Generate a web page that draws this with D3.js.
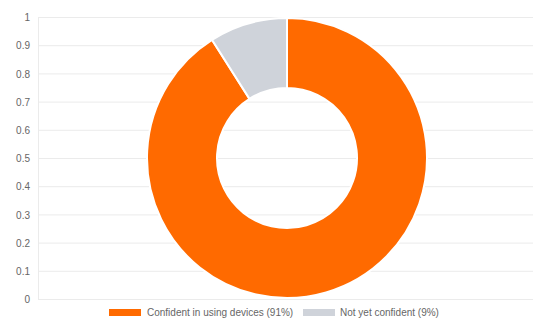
<!DOCTYPE html>
<html><head><meta charset="utf-8">
<script src="https://cdn.jsdelivr.net/npm/d3@7"></script>
<style>body{margin:0;background:#fff;font-family:"Liberation Sans",Arial,sans-serif}</style>
</head><body>
<svg id="c" width="533" height="320"></svg>
<script>
const categories = ["Confident in using devices (91%)", "Not yet confident (9%)"];
const values = [91, 9];
const colors = ["#ff6a00", "#cfd3da"];
const yTicks = [0, 0.1, 0.2, 0.3, 0.4, 0.5, 0.6, 0.7, 0.8, 0.9, 1];

(function () {
const svg = d3.select("#c");
const W = 533;
const mLeft = 38, mTop = 17, mBottom = 299;
const y = d3.scaleLinear().domain([0, 1]).range([mBottom, mTop]);

svg.append("g").selectAll("line").data(yTicks).join("line")
  .attr("x1", mLeft).attr("x2", W)
  .attr("y1", d => y(d) + 0.5).attr("y2", d => y(d) + 0.5)
  .attr("stroke", "#ebebeb").attr("stroke-width", 1);
svg.append("line").attr("x1", mLeft + 0.5).attr("x2", mLeft + 0.5)
  .attr("y1", mTop).attr("y2", mBottom + 1).attr("stroke", "#ebebeb");

const axis = d3.axisLeft(y).tickValues(yTicks).tickSize(0).tickPadding(8).tickFormat(d3.format("~g"));
const ag = svg.append("g").attr("transform", `translate(${mLeft},0.5)`).call(axis);
ag.select(".domain").remove();
ag.selectAll("text").attr("fill", "#666").style("font-size", "10px")
  .style("font-family", '"Liberation Sans",Arial,sans-serif');

const cx = 287, cy = 158, R = 140, r = 70;
const pie = d3.pie().sort(null).value(d => d)(values);
const arc = d3.arc().innerRadius(r).outerRadius(R);
svg.append("g").attr("transform", `translate(${cx},${cy})`)
  .selectAll("path").data(pie).join("path")
  .attr("d", arc).attr("fill", (d, i) => colors[i])
  .attr("stroke", "#fff").attr("stroke-width", 2);

const lg = svg.append("g");
const items = [{x: 109, tx: 147}, {x: 303, tx: 340}];
categories.forEach((c, i) => {
  lg.append("rect").attr("x", items[i].x).attr("y", 309).attr("width", 32).attr("height", 7)
    .attr("fill", colors[i]);
  lg.append("text").attr("x", items[i].tx).attr("y", 316).text(c)
    .attr("fill", "#666").style("font-size", "10px");
});
})();
</script>
</body></html>
